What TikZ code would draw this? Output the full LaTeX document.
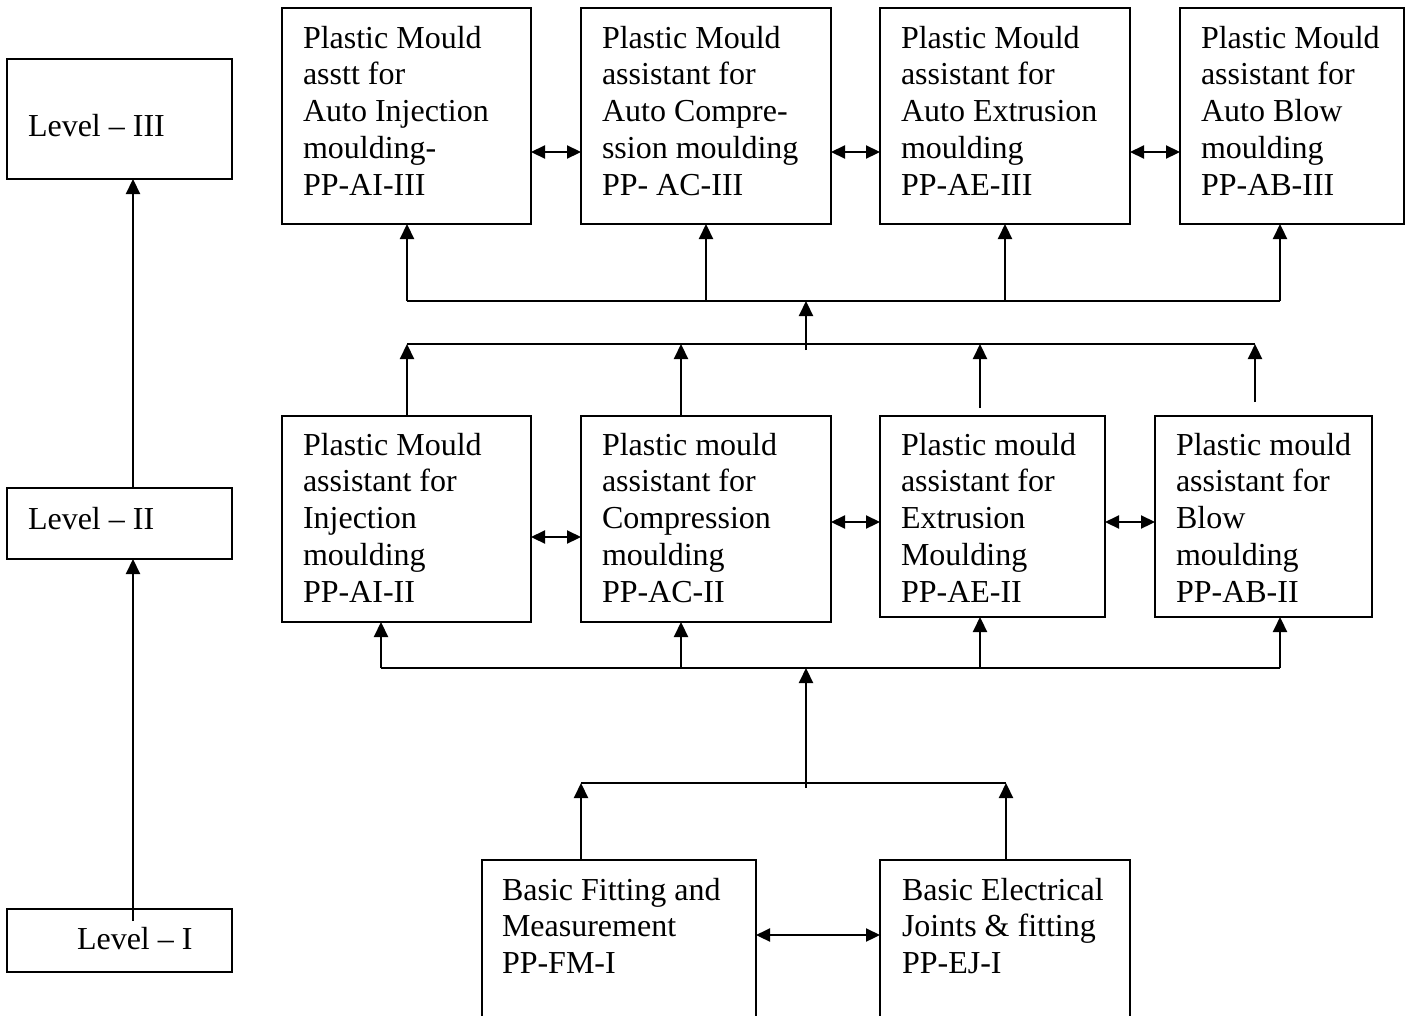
\documentclass[tikz,border=0pt]{standalone}
\usepackage{fontspec}
\setmainfont{Liberation Serif}
\usetikzlibrary{arrows.meta,calc}
\begin{document}
\begin{tikzpicture}[x=1pt,y=-1pt,
  box/.style={draw, line width=2pt, rectangle, inner sep=0pt, outer sep=0pt, anchor=north west},
  txt/.style={anchor=north west, inner sep=0pt, outer sep=0pt, align=left, font=\fontsize{32}{36.7}\selectfont},
  conn/.style={line width=2.2pt},
  arr/.style={conn, -{Triangle[length=15pt,width=14pt]}},
  darr/.style={conn, {Triangle[length=14pt,width=13pt]}-{Triangle[length=14pt,width=13pt]}},
]
\useasboundingbox (0,0) rectangle (1405,1015);
\clip (0,0) rectangle (1405,1015);

% level boxes
\node[box, minimum width=225, minimum height=120.3] (l3) at (7,58.7) {};
\node[box, minimum width=225, minimum height=71] (l2) at (7,488) {};
\node[box, minimum width=225, minimum height=63] (l1) at (7,909) {};
\node[txt] (l3t) at (28,114.7) {Level – III};
\node[txt] (l2t) at (28,507) {Level – II};
\node[txt] (l1t) at (77,927) {Level – I};

% top row
\node[box, minimum width=249, minimum height=216] (a1) at (282,8) {};
\node[box, minimum width=250, minimum height=216] (a2) at (581,8) {};
\node[box, minimum width=250, minimum height=216] (a3) at (880,8) {};
\node[box, minimum width=224, minimum height=216] (a4) at (1180,8) {};
\node[txt] (a1t) at (303,26) {Plastic Mould\\asstt for\\Auto Injection\\moulding-\\PP-AI-III};
\node[txt] (a2t) at (602,26) {Plastic Mould\\assistant for\\Auto Compre-\\ssion moulding\\PP- AC-III};
\node[txt] (a3t) at (901,26) {Plastic Mould\\assistant for\\Auto Extrusion\\moulding\\PP-AE-III};
\node[txt] (a4t) at (1201,26) {Plastic Mould\\assistant for\\Auto Blow\\moulding\\PP-AB-III};

% middle row
\node[box, minimum width=249, minimum height=206] (b1) at (282,416) {};
\node[box, minimum width=250, minimum height=206] (b2) at (581,416) {};
\node[box, minimum width=225, minimum height=201] (b3) at (880,416) {};
\node[box, minimum width=217, minimum height=201] (b4) at (1155,416) {};
\node[txt] (b1t) at (303,433) {Plastic Mould\\assistant for\\Injection\\moulding\\PP-AI-II};
\node[txt] (b2t) at (602,433) {Plastic mould\\assistant for\\Compression\\moulding\\PP-AC-II};
\node[txt] (b3t) at (901,433) {Plastic mould\\assistant for\\Extrusion\\Moulding\\PP-AE-II};
\node[txt] (b4t) at (1176,433) {Plastic mould\\assistant for\\Blow\\moulding\\PP-AB-II};

% bottom row
\node[box, minimum width=274, minimum height=200] (c1) at (482,860) {};
\node[box, minimum width=250, minimum height=200] (c2) at (880,860) {};
\node[txt] (c1t) at (502,878) {Basic Fitting and\\Measurement\\PP-FM-I};
\node[txt] (c2t) at (902,878) {Basic Electrical\\Joints \& fitting\\PP-EJ-I};

% level connectors
\coordinate (lv1) at ($(l1.north)+(13.5,12)$);
\coordinate (lv2) at ($(l2.north)+(13.5,0)$);
\draw[arr] (lv1) -- (lv1 |- l2.south);
\draw[arr] (lv2) -- (lv2 |- l3.south);

% bus coordinates
\coordinate (tbL) at (407,301);
\coordinate (tbR) at (1280,301);
\coordinate (mbL) at (407,344);
\coordinate (mbR) at (1255,344);
\coordinate (lbL) at (381,668);
\coordinate (lbR) at (1280,668);
\coordinate (bbL) at (581,783);
\coordinate (bbR) at (1006,783);
\coordinate (mc1) at (806,350);
\coordinate (mc2) at (806,788);
\coordinate (xa2) at (706,0);
\coordinate (xa3) at (1005,0);
\coordinate (xb2) at (681,0);
\coordinate (xb3) at (980,0);
\coordinate (b3s) at (980,408);
\coordinate (b4s) at (1255,402);

% top bus
\draw[conn] (tbL) -- (tbR);
\draw[arr] (tbL) -- (tbL |- a1.south);
\draw[arr] (xa2 |- tbL) -- (xa2 |- a2.south);
\draw[arr] (xa3 |- tbL) -- (xa3 |- a3.south);
\draw[arr] (tbR) -- (tbR |- a4.south);
\draw[arr] (mc1) -- (mc1 |- tbL);

% middle bus
\draw[conn] (mbL) -- (mbR);
\draw[arr] (mbL |- b1.north) -- (mbL);
\draw[arr] (xb2 |- b2.north) -- (xb2 |- mbL);
\draw[arr] (b3s) -- (b3s |- mbL);
\draw[arr] (b4s) -- (mbR);

% lower bus
\draw[conn] (lbL) -- (lbR);
\draw[arr] (lbL) -- (lbL |- b1.south);
\draw[arr] (xb2 |- lbL) -- (xb2 |- b2.south);
\draw[arr] (xb3 |- lbL) -- (xb3 |- b3.south);
\draw[arr] (lbR) -- (lbR |- b4.south);
\draw[arr] (mc2) -- (mc2 |- lbL);

% bottom bus
\draw[conn] (bbL) -- (bbR);
\draw[arr] (bbL |- c1.north) -- (bbL);
\draw[arr] (bbR |- c2.north) -- (bbR);

% double arrows
\coordinate (yA) at (0,152);
\coordinate (yB1) at (0,537);
\coordinate (yB2) at (0,522);
\coordinate (yC) at (0,935);
\draw[darr] (a1.east |- yA) -- (a2.west |- yA);
\draw[darr] (a2.east |- yA) -- (a3.west |- yA);
\draw[darr] (a3.east |- yA) -- (a4.west |- yA);
\draw[darr] (b1.east |- yB1) -- (b2.west |- yB1);
\draw[darr] (b2.east |- yB2) -- (b3.west |- yB2);
\draw[darr] (b3.east |- yB2) -- (b4.west |- yB2);
\draw[darr] (c1.east |- yC) -- (c2.west |- yC);
\end{tikzpicture}
\end{document}
